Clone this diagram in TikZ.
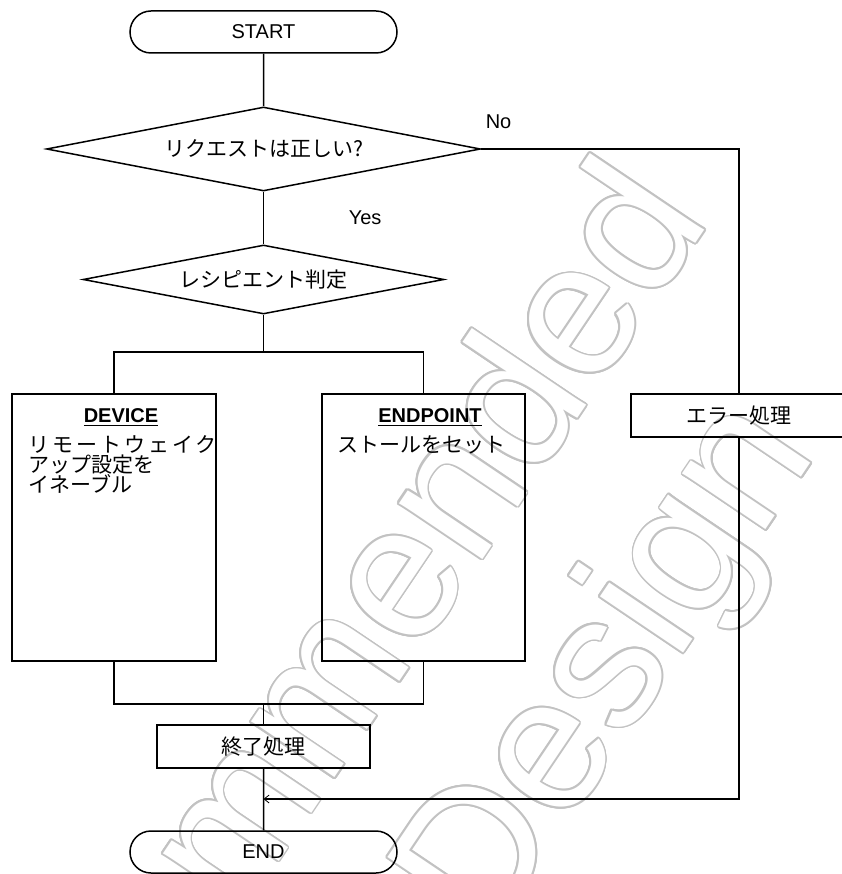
\documentclass[tikz,border=0pt]{standalone}
\usepackage{fontspec}
\setmainfont{Liberation Sans}
\newfontfamily\jp{Noto Sans CJK JP}[Scale=1.05]
\usetikzlibrary{shapes.geometric,shapes.misc,arrows.meta,positioning,calc}

\definecolor{wmgray}{gray}{0.76}
\newcommand\headline[1]{\vtop{\hbox{\bfseries #1}\kern2.5pt\hrule height 1.8pt}}

\tikzset{
  terminal/.style={rounded rectangle,draw,minimum width=267pt,minimum height=42pt,inner sep=0pt},
  decision/.style={diamond,draw,aspect=5.2,inner sep=0pt},
  process/.style={rectangle,draw,minimum height=43pt,inner sep=0pt},
  wm/.style={rotate=56,inner sep=0pt,font=\fontsize{190}{190}\selectfont},
}

\begin{document}
\begin{tikzpicture}[x=1pt,y=-1pt,line width=1.5pt]
  \fontsize{20}{20}\selectfont
  \useasboundingbox (0,0) rectangle (841,874);
  \foreach \a in {0,20,...,340} {
    \node[wm,text=wmgray,anchor=base east] at ($(712,219)+(\a:1.8)$) {Recommended};
    \node[wm,text=wmgray,anchor=base west] at ($(487,944)+(\a:1.8)$) {Design};
  }
  \node[wm,text=white,anchor=base east] (wm1) at (712,219) {Recommended};
  \node[wm,text=white,anchor=base west] (wm2) at (487,944) {Design};

  \node[terminal] (start) at (263.5,32) {START};
  \node[decision,minimum width=434pt,minimum height=84pt] (req) at (263.5,149) {\jp リクエストは正しい?};
  \node[decision,minimum width=361pt,minimum height=69pt] (rcpt) at (263.5,279.5) {\jp レシピエント判定};
  \node[process,minimum width=204pt,minimum height=267pt] (dev) at (114,527.5) {};
  \node[process,minimum width=203pt,minimum height=267pt] (ep) at (423.5,527.5) {};
  \node[process,minimum width=216pt] (err) at (739,415.5) {\jp エラー処理};
  \node[process,minimum width=213pt] (fin) at (263.5,746.5) {\jp 終了処理};
  \node[terminal] (stop) at (263.5,852) {END};

  \node[anchor=base] (devhd) at (121,422) {\headline{DEVICE}};
  \node[anchor=north west,align=left,inner sep=0pt,font=\jp] (devtx) at (28,435)
    {{\addfontfeature{LetterSpace=14}リモートウェイク}\\アップ設定を\\イネーブル};
  \node[anchor=base] (ephd) at (430,422) {\headline{ENDPOINT}};
  \node[anchor=north west,inner sep=0pt,font=\jp] (eptx) at (337,435) {ストールをセット};

  \node[anchor=base west,inner sep=0pt] (no) at (485,129) {No};
  \node[anchor=base west,inner sep=0pt] (yes) at (348,225) {Yes};

  \coordinate (split) at (263.5,352);
  \coordinate (join) at (263.5,704);
  \coordinate (merge) at (263.5,799);
  \draw (start) -- (req);
  \draw (req) -- (rcpt);
  \draw (rcpt) -- (split);
  \draw (dev.north) |- (split) -| (ep.north);
  \draw (dev.south) |- (join) -| (ep.south);
  \draw (join) -- (fin);
  \draw (fin) -- (stop);
  \draw (req.east) -| (err.north);
  \draw[-{Straight Barb[length=5pt,width=8pt,line width=0.8pt]}] (err.south) |- (merge);
\end{tikzpicture}
\end{document}
